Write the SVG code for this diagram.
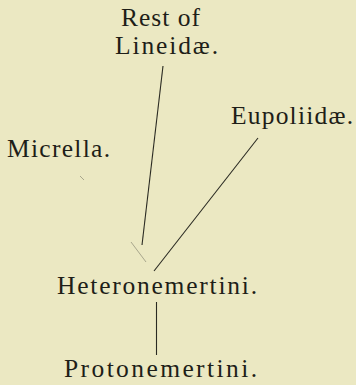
<svg xmlns="http://www.w3.org/2000/svg" width="356" height="385" viewBox="0 0 356 385">
<style>
text{font-family:"Liberation Serif","Times New Roman",serif;font-size:25.5px;fill:#1e1e18}
.e{stroke:#2a2a22;stroke-width:1.1;fill:none}
.f{stroke:#a8a68c;stroke-width:1;fill:none}
</style>
<rect width="356" height="385" fill="#ebe8c2"/>
<g id="connectors">
<line class="e" x1="163" y1="66" x2="142" y2="245"/>
<line class="e" x1="258" y1="138" x2="154" y2="271"/>
<line class="f" x1="131" y1="242" x2="146" y2="262"/>
<line class="f" x1="80" y1="176" x2="84" y2="180"/>
<line class="e" x1="156.5" y1="302" x2="156.5" y2="355"/>
</g>
<g id="lineidae"><text x="121" y="26" textLength="79" lengthAdjust="spacing">Rest of</text><text x="115" y="54" textLength="103" lengthAdjust="spacing">Lineidæ.</text></g>
<g id="eupoliidae"><text x="231" y="124" textLength="122" lengthAdjust="spacing">Eupoliidæ.</text></g>
<g id="micrella"><text x="7" y="157" textLength="103" lengthAdjust="spacing">Micrella.</text></g>
<g id="heteronemertini"><text x="57" y="294" textLength="200" lengthAdjust="spacing">Heteronemertini.</text></g>
<g id="protonemertini"><text x="64" y="377" textLength="193" lengthAdjust="spacing">Protonemertini.</text></g>
</svg>
